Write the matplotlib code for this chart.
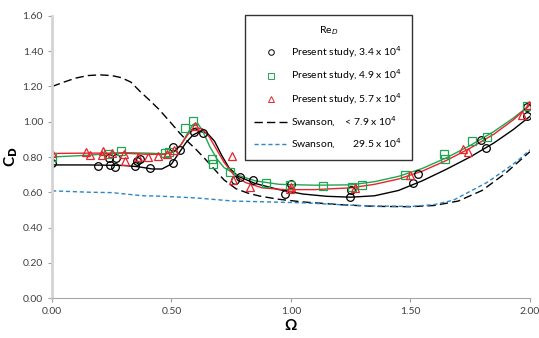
import matplotlib.pyplot as plt
from matplotlib.lines import Line2D

plt.rcParams['font.family'] = ['Lato', 'DejaVu Sans']

# measured drag coefficients, Re = 3.4e4
om_34 = [0.0, 0.194, 0.243, 0.264, 0.239, 0.268, 0.347, 0.355, 0.368, 0.41, 0.507, 0.505, 0.535,
         0.595, 0.633, 0.766, 0.787, 0.842, 0.975, 1.0, 1.247, 1.25, 1.51, 1.53, 1.795, 1.815, 1.987, 1.99]
cd_34 = [0.765, 0.75, 0.752, 0.743, 0.792, 0.794, 0.749, 0.78, 0.79, 0.735, 0.765, 0.857, 0.84,
         0.94, 0.935, 0.67, 0.686, 0.672, 0.59, 0.647, 0.573, 0.613, 0.653, 0.704, 0.896, 0.851, 1.084, 1.033]

# Re = 4.9e4
om_49 = [0.0, 0.236, 0.29, 0.473, 0.49, 0.556, 0.592, 0.67, 0.675, 0.745, 0.897, 0.996,
         1.134, 1.255, 1.297, 1.477, 1.64, 1.645, 1.757, 1.82, 1.987]
cd_49 = [0.80, 0.818, 0.835, 0.82, 0.83, 0.967, 1.005, 0.79, 0.763, 0.716, 0.653, 0.64,
         0.635, 0.63, 0.64, 0.70, 0.817, 0.79, 0.891, 0.913, 1.09]

# Re = 5.7e4
om_57 = [0.0, 0.142, 0.159, 0.213, 0.209, 0.25, 0.30, 0.305, 0.36, 0.40, 0.445, 0.48, 0.51,
         0.598, 0.755, 0.757, 0.83, 0.996, 1.0, 1.27, 1.50, 1.72, 1.74, 1.967, 1.996]
cd_57 = [0.823, 0.83, 0.81, 0.835, 0.81, 0.82, 0.817, 0.78, 0.80, 0.80, 0.806, 0.817, 0.84,
         0.975, 0.806, 0.672, 0.63, 0.618, 0.632, 0.625, 0.70, 0.845, 0.83, 1.04, 1.095]

# fitted curves through each data set
fit_om_34 = [0.0, 0.15, 0.30, 0.36, 0.42, 0.46, 0.50, 0.53, 0.56, 0.59, 0.62, 0.65, 0.68, 0.71,
             0.74, 0.78, 0.85, 0.95, 1.05, 1.15, 1.25, 1.35, 1.45, 1.55, 1.65, 1.75, 1.85, 1.93, 2.0]
fit_cd_34 = [0.755, 0.755, 0.752, 0.745, 0.732, 0.732, 0.76, 0.82, 0.88, 0.925, 0.945, 0.935, 0.89, 0.81,
             0.74, 0.69, 0.65, 0.615, 0.59, 0.577, 0.572, 0.58, 0.61, 0.665, 0.73, 0.80, 0.88, 0.955, 1.03]

fit_om_49 = [0.0, 0.15, 0.30, 0.40, 0.47, 0.51, 0.54, 0.57, 0.59, 0.61, 0.63, 0.66, 0.69,
             0.72, 0.77, 0.85, 0.95, 1.1, 1.25, 1.35, 1.45, 1.55, 1.65, 1.75, 1.85, 1.93, 2.0]
fit_cd_49 = [0.80, 0.81, 0.825, 0.822, 0.818, 0.83, 0.87, 0.94, 0.985, 0.99, 0.95, 0.86, 0.79,
             0.74, 0.70, 0.665, 0.645, 0.64, 0.642, 0.66, 0.69, 0.735, 0.795, 0.865, 0.945, 1.02, 1.095]

fit_om_57 = [0.0, 0.15, 0.30, 0.40, 0.47, 0.51, 0.54, 0.57, 0.60, 0.63, 0.66, 0.69, 0.72,
             0.76, 0.81, 0.88, 0.97, 1.1, 1.25, 1.35, 1.45, 1.55, 1.65, 1.75, 1.85, 1.93, 2.0]
fit_cd_57 = [0.82, 0.822, 0.822, 0.815, 0.815, 0.83, 0.87, 0.93, 0.965, 0.96, 0.91, 0.84, 0.77,
             0.70, 0.655, 0.625, 0.615, 0.615, 0.625, 0.645, 0.675, 0.72, 0.78, 0.85, 0.93, 1.01, 1.095]

# Swanson reference curves
sw_low_om = [0.0, 0.05, 0.10, 0.15, 0.20, 0.25, 0.29, 0.33, 0.37, 0.41, 0.45, 0.50, 0.535, 0.57, 0.605,
             0.64, 0.68, 0.72, 0.77, 0.82, 0.87, 0.95, 1.05, 1.2, 1.35, 1.5, 1.6, 1.7, 1.8, 1.9, 1.95, 2.0]
sw_low_cd = [1.20, 1.225, 1.248, 1.262, 1.266, 1.262, 1.25, 1.225, 1.17, 1.12, 1.067, 0.99, 0.935, 0.885, 0.84,
             0.79, 0.73, 0.67, 0.62, 0.595, 0.578, 0.56, 0.545, 0.53, 0.52, 0.518, 0.525, 0.55, 0.61, 0.71, 0.77, 0.83]

sw_high_om = [0.0, 0.16, 0.25, 0.38, 0.45, 0.6, 0.76, 0.91, 1.05, 1.2, 1.33, 1.51, 1.6, 1.68,
              1.75, 1.82, 1.90, 1.95, 2.0]
sw_high_cd = [0.608, 0.60, 0.598, 0.58, 0.578, 0.568, 0.55, 0.545, 0.54, 0.53, 0.522, 0.52, 0.53, 0.555,
              0.605, 0.655, 0.73, 0.78, 0.84]

green = '#22a553'
red = '#e8232b'
blue = '#2b87c9'

fig = plt.figure(figsize=(5.39, 3.38), dpi=100)
ax = fig.add_axes([0.0965, 0.1183, 0.8865, 0.8344])

ax.plot(sw_low_om, sw_low_cd, color='black', lw=1.0, dashes=(6, 3))
ax.plot(sw_high_om, sw_high_cd, color=blue, lw=1.0, dashes=(3, 2))

ax.plot(fit_om_34, fit_cd_34, color='black', lw=1.0)
ax.plot(fit_om_49, fit_cd_49, color=green, lw=1.0)
ax.plot(fit_om_57, fit_cd_57, color=red, lw=1.0)

mk = dict(ls='none', markersize=5.5, mew=0.9, markerfacecolor='none')
ax.plot(om_34, cd_34, marker='o', markeredgecolor='black', **mk)
ax.plot(om_49, cd_49, marker='s', markeredgecolor=green, **mk)
ax.plot(om_57, cd_57, marker='^', markeredgecolor=red, **mk)

ax.set_xlim(0, 2.0)
ax.set_ylim(0, 1.6)
ax.set_xticks([0.0, 0.5, 1.0, 1.5, 2.0])
ax.set_yticks([0.0, 0.2, 0.4, 0.6, 0.8, 1.0, 1.2, 1.4, 1.6])
ax.xaxis.set_major_formatter(plt.FormatStrFormatter('%.2f'))
ax.yaxis.set_major_formatter(plt.FormatStrFormatter('%.2f'))
ax.tick_params(labelsize=7.5, labelcolor='#404040', length=3, width=0.8, color='#a0a0a0')

for side in ['top', 'right']:
    ax.spines[side].set_visible(False)
ax.spines['left'].set_color('#d4d4d4')
ax.spines['left'].set_linewidth(2.0)
ax.spines['bottom'].set_color('#a8a8a8')
ax.spines['bottom'].set_linewidth(0.8)

ax.set_ylabel('C$_\\mathbf{D}$', fontsize=11, fontweight='bold', labelpad=2)
ax.set_xlabel('Ω', fontsize=11, fontweight='bold', labelpad=2)

handles = [
    Line2D([], [], ls='none', marker='o', markersize=4, mew=0.7, markerfacecolor='none', markeredgecolor='black'),
    Line2D([], [], ls='none', marker='s', markersize=4, mew=0.7, markerfacecolor='none', markeredgecolor=green),
    Line2D([], [], ls='none', marker='^', markersize=4, mew=0.7, markerfacecolor='none', markeredgecolor=red),
    Line2D([], [], color='black', lw=1.0, dashes=(6, 3)),
    Line2D([], [], color=blue, lw=1.0, dashes=(3, 2)),
]
labels = [
    'Present study, 3.4 x 10$^4$',
    'Present study, 4.9 x 10$^4$',
    'Present study, 5.7 x 10$^4$',
    'Swanson,    < 7.9 x 10$^4$',
    'Swanson,       29.5 x 10$^4$',
]
leg = ax.legend(handles, labels, title='Re$_D$', fontsize=7.5, title_fontsize=7.5,
                loc='upper left', bbox_to_anchor=(0.403, 1.005), frameon=True, fancybox=False,
                edgecolor='black', handlelength=3.2, handletextpad=0.4, labelspacing=0.72,
                borderpad=0.9, borderaxespad=0)
leg.get_frame().set_linewidth(1.0)

fig.savefig('out.png', dpi=100)
